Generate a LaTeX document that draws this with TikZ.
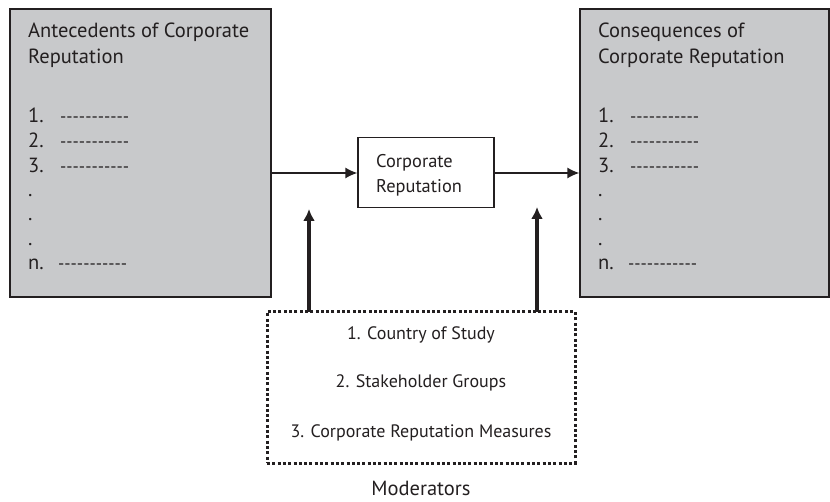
\documentclass[tikz,border=0pt]{standalone}
\usepackage{fontspec}
\setmainfont{PT Sans}
\newfontfamily\nolig{PT Sans}[Ligatures=TeXOff]
\usetikzlibrary{arrows.meta}
\definecolor{boxgray}{HTML}{C8C9CB}
\definecolor{ink}{HTML}{231F20}
\newcommand\dashrow{{\nolig\fontsize{17.4}{20}\selectfont -----------}}
\begin{document}
\begin{tikzpicture}[x=1pt,y=-1pt,
  bigbox/.style={draw=ink,fill=boxgray,line width=1.3pt,inner sep=0pt},
  midbox/.style={draw=ink,fill=white,line width=1.3pt,inner sep=0pt},
  modbox/.style={draw=ink,line width=3pt,dash pattern=on 3pt off 2.3pt,inner sep=0pt},
  txt/.style={anchor=base west,inner sep=0pt,text=ink,font=\fontsize{20.5}{24}\selectfont},
  ctxt/.style={anchor=base,inner sep=0pt,text=ink,font=\fontsize{18}{22}\selectfont},
  thinarrow/.style={draw=ink,line width=1.5pt,-{Latex[length=12pt,width=11pt]}},
  thickarrow/.style={draw=ink,line width=3.5pt,-{Latex[length=12pt,width=12pt]}}]
\useasboundingbox (0,0) rectangle (830,502);
% boxes
\node[bigbox,minimum width=261pt,minimum height=288pt] (ant) at (140.5,153) {};
\node[bigbox,minimum width=249pt,minimum height=288pt] (con) at (704.5,153) {};
\node[midbox,minimum width=136pt,minimum height=70pt] (cr) at (426,172.5) {};
\node[modbox,minimum width=308pt,minimum height=151pt] (mod) at (421,387.5) {};
% left texts
\node[txt] (a1) at (28,38) {Antecedents of Corporate};
\node[txt] (a2) at (28,64) {Reputation};
\node[txt] (a3) at (28,123) {1.};
\node[txt] (a3d) at (60,123) {\dashrow};
\node[txt] (a4) at (28,148) {2.};
\node[txt] (a4d) at (60,148) {\dashrow};
\node[txt] (a5) at (28,173) {3.};
\node[txt] (a5d) at (60,173) {\dashrow};
\node[txt] (a6) at (28,197) {.};
\node[txt] (a7) at (28,221) {.};
\node[txt] (a8) at (28,246) {.};
\node[txt] (a9) at (28,270) {n.};
\node[txt] (a9d) at (58,270) {\dashrow};
% right texts
\node[txt] (c1) at (598,38) {Consequences of};
\node[txt] (c2) at (598,64) {Corporate Reputation};
\node[txt] (c3) at (598,123) {1.};
\node[txt] (c3d) at (630,123) {\dashrow};
\node[txt] (c4) at (598,148) {2.};
\node[txt] (c4d) at (630,148) {\dashrow};
\node[txt] (c5) at (598,173) {3.};
\node[txt] (c5d) at (630,173) {\dashrow};
\node[txt] (c6) at (598,197) {.};
\node[txt] (c7) at (598,221) {.};
\node[txt] (c8) at (598,246) {.};
\node[txt] (c9) at (598,270) {n.};
\node[txt] (c9d) at (628,270) {\dashrow};
% middle texts
\node[txt,font=\fontsize{18.4}{22}\selectfont] (m1) at (376,168) {Corporate};
\node[txt,font=\fontsize{18.4}{22}\selectfont] (m2) at (376,193) {Reputation};
% moderator texts
\node[ctxt] (d1) at (421,340) {1. Country of Study};
\node[ctxt] (d2) at (421,388) {2. Stakeholder Groups};
\node[ctxt] (d3) at (421,437) {3. Corporate Reputation Measures};
\node[ctxt,font=\fontsize{20.5}{24}\selectfont] (d4) at (421,495) {Moderators};
% connectors
\draw[thinarrow] (ant.east |- 0,173) -- (cr.west |- 0,173);
\draw[thinarrow] (cr.east |- 0,173) -- (con.west |- 0,173);
\coordinate (b1) at (309,312);
\coordinate (t1) at (309,209);
\coordinate (b2) at (537,312);
\coordinate (t2) at (537,207);
\draw[thickarrow] (b1) -- (t1);
\draw[thickarrow] (b2) -- (t2);
\end{tikzpicture}
\end{document}
